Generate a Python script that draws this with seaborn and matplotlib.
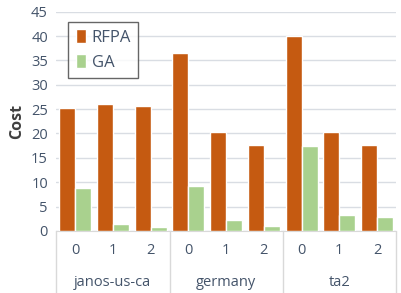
import matplotlib
matplotlib.use("Agg")
import matplotlib.pyplot as plt
import seaborn as sns
import pandas as pd
import numpy as np

groups = ["janos-us-ca", "germany", "ta2"]
subs = ["0", "1", "2"]
rfpa = [25.2, 26.0, 25.6, 36.6, 20.3, 17.6, 40.1, 20.3, 17.7]
ga = [8.9, 1.5, 0.9, 9.3, 2.2, 1.1, 17.4, 3.3, 2.8]
series = ["RFPA", "GA"]

rows = []
keys = []
for gi, g in enumerate(groups):
    for si, s in enumerate(subs):
        k = f"{g}|{s}"
        keys.append(k)
        idx = gi * 3 + si
        rows.append({"x": k, "series": "RFPA", "Cost": rfpa[idx]})
        rows.append({"x": k, "series": "GA", "Cost": ga[idx]})
df = pd.DataFrame(rows)

sns.set_style("white")
plt.rcParams["font.family"] = ["Open Sans", "DejaVu Sans"]

fig, ax = plt.subplots(figsize=(4.02, 2.93), dpi=100)
fig.subplots_adjust(left=0.14, right=0.985, top=0.96, bottom=0.212)

sns.barplot(data=df, x="x", y="Cost", hue="series", order=keys, hue_order=series,
            palette={"RFPA": "#C55A11", "GA": "#A9D18E"}, width=0.85,
            saturation=1, errorbar=None, ax=ax, zorder=3)

ax.set_ylim(0, 45)
ax.set_yticks(range(0, 46, 5))
ax.yaxis.grid(True, color="#D9DDE3", linewidth=1, zorder=0)
ax.set_axisbelow(True)
for sp in ["top", "right", "left"]:
    ax.spines[sp].set_visible(False)
ax.spines["bottom"].set_color("#D9D9D9")
ax.set_xlim(-0.5, 8.5)

tick_color = "#44546A"
ax.set_xticks(range(9))
ax.set_xticklabels(subs * 3, color=tick_color, fontsize=10.5)
ax.tick_params(axis="x", length=0, pad=9)
ax.tick_params(axis="y", length=0, colors=tick_color, labelsize=10.5, pad=6)
ax.set_xlabel("")
ax.set_ylabel("Cost", fontsize=11.5, fontweight="bold", color="#404040", labelpad=4)

trans = ax.get_xaxis_transform()
for b in [-0.5, 2.5, 5.5, 8.5]:
    ax.plot([b, b], [0, -0.3], transform=trans, color="#D9D9D9", lw=1, clip_on=False)
for gi, g in enumerate(groups):
    ax.text(gi * 3 + 1, -0.235, g, transform=trans, ha="center", va="center",
            color=tick_color, fontsize=10.5)

leg = ax.legend(loc="upper left", bbox_to_anchor=(0.035, 0.955), borderaxespad=0,
                frameon=True, fontsize=12, handlelength=0.6, handleheight=0.9,
                handletextpad=0.35, borderpad=0.45, labelspacing=0.5, fancybox=False)
leg.get_frame().set_edgecolor("#404040")
leg.get_frame().set_linewidth(1)
for t in leg.get_texts():
    t.set_color(tick_color)

fig.savefig("out.png", dpi=100)
